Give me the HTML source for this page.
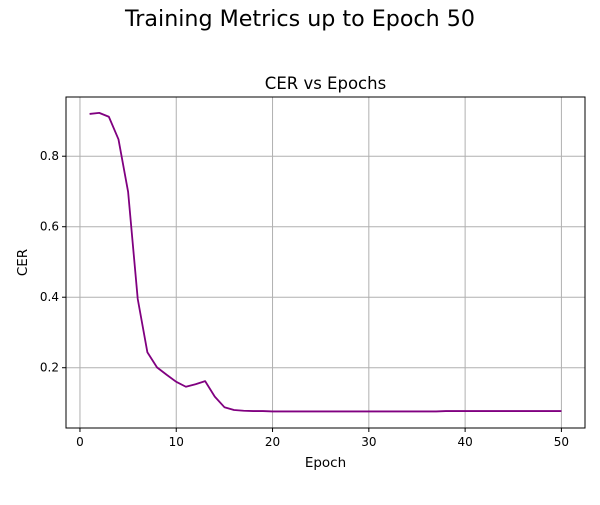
<!DOCTYPE html>
<html><head><meta charset="utf-8"><style>
body{margin:0;background:#fff;}
svg text{font-family:"DejaVu Sans","Liberation Sans",sans-serif;}
</style></head><body>
<svg id="chart" width="600" height="500" xmlns="http://www.w3.org/2000/svg">
<rect width="600" height="500" fill="#fff"/>
<text x="300" y="26" text-anchor="middle" font-size="22.2" fill="#000">Training Metrics up to Epoch 50</text>
<text x="325.5" y="89" text-anchor="middle" font-size="16.5" fill="#000">CER vs Epochs</text>
<g id="grid"></g>
<g id="line"></g>
<rect x="66" y="97" width="519" height="331" fill="none" stroke="#000" stroke-width="1"/>
<g id="ticks"></g>
<text x="325.5" y="467" text-anchor="middle" font-size="13.5">Epoch</text>
<text x="27" y="262.5" text-anchor="middle" font-size="13.5" transform="rotate(-90 27 262.5)">CER</text>
</svg>
<script>
const epochs=[];for(let i=1;i<=50;i++)epochs.push(i);
const cer=[0.920,0.923,0.912,0.848,0.699,0.395,0.244,0.201,0.180,0.160,0.146,0.153,0.162,0.118,0.088,0.080,0.078,0.077,0.077,0.076,0.076,0.076,0.076,0.076,0.076,0.076,0.076,0.076,0.076,0.076,0.076,0.076,0.076,0.076,0.076,0.076,0.076,0.077,0.077,0.077,0.077,0.077,0.077,0.077,0.077,0.077,0.077,0.077,0.077,0.077];
const xTicks=[0,10,20,30,40,50];
const yTicks=[0.2,0.4,0.6,0.8];
const L=66,R=585,T=97,B=428;
const xMin=-1.45,xMax=52.45,yMin=0.029,yMax=0.968;
const sx=v=>L+(v-xMin)/(xMax-xMin)*(R-L);
const sy=v=>B-(v-yMin)/(yMax-yMin)*(B-T);
const NS="http://www.w3.org/2000/svg";
const grid=document.getElementById('grid'),ticks=document.getElementById('ticks'),lineG=document.getElementById('line');
function mk(tag,attrs,parent){const e=document.createElementNS(NS,tag);for(const k in attrs)e.setAttribute(k,attrs[k]);parent.appendChild(e);return e;}
xTicks.forEach(t=>{const x=sx(t);
 const g=mk('line',{x1:x,x2:x,y1:T,y2:B,stroke:'#b0b0b0','stroke-width':1},grid);
 
 
 mk('line',{x1:x,x2:x,y1:B,y2:B+4,stroke:'#000'},ticks);
 const tx=mk('text',{x:x,y:B+18,'text-anchor':'middle','font-size':12},ticks);tx.textContent=t;
 
 
});
yTicks.forEach(t=>{const y=sy(t);
 const g=mk('line',{x1:L,x2:R,y1:y,y2:y,stroke:'#b0b0b0','stroke-width':1},grid);
 
 
 mk('line',{x1:L-4,x2:L,y1:y,y2:y,stroke:'#000'},ticks);
 const tx=mk('text',{x:L-7,y:y+4,'text-anchor':'end','font-size':12},ticks);tx.textContent=t.toFixed(1);
 
 
});
const p=mk('polyline',{points:epochs.map((e,i)=>sx(e)+','+sy(cer[i])).join(' '),fill:'none',stroke:'#800080','stroke-width':1.8,'stroke-linejoin':'round'},lineG);


</script>
</body></html>
